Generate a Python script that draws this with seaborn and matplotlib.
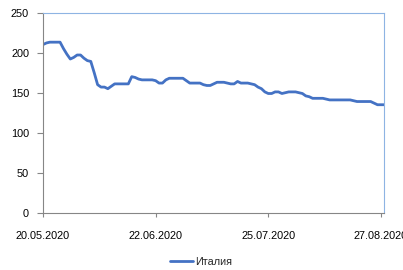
import pandas as pd
import matplotlib.pyplot as plt
import matplotlib.dates as mdates
import seaborn as sns

# Daily values for Italy, 20.05.2020 - 28.08.2020
start_date = "2020-05-20"
values = [
    210, 212, 213, 213, 213, 213, 205, 198, 192, 194,
    197, 197, 193, 190, 189, 175, 160, 157, 157, 155,
    158, 161, 161, 161, 161, 161, 170, 169, 167, 166,
    166, 166, 166, 165, 162, 162, 166, 168, 168, 168,
    168, 168, 165, 162, 162, 162, 162, 160, 159, 159,
    161, 163, 163, 163, 162, 161, 161, 164, 162, 162,
    162, 161, 160, 157, 155, 151, 149, 149, 151, 151,
    149, 150, 151, 151, 151, 150, 149, 146, 145, 143,
    143, 143, 143, 142, 141, 141, 141, 141, 141, 141,
    141, 140, 139, 139, 139, 139, 139, 137, 135, 135,
    135,
]
series_name = "Италия"
tick_dates = ["2020-05-20", "2020-06-22", "2020-07-25", "2020-08-27"]
y_ticks = [0, 50, 100, 150, 200, 250]

sns.set_theme(style="white")
plt.rcParams['font.family'] = ['Liberation Sans', 'DejaVu Sans']

df = pd.DataFrame({
    "date": pd.date_range(start_date, periods=len(values), freq="D"),
    "value": values,
})

fig = plt.figure(figsize=(4.03, 2.70), dpi=100)
ax = fig.add_axes([0.1067, 0.2111, 0.8469, 0.7426])

sns.lineplot(data=df, x="date", y="value", ax=ax, color="#4472C4",
             linewidth=2.0, label=series_name, legend=False)

ax.set_ylim(0, 250)
ax.set_yticks(y_ticks)
ax.set_xlim(df["date"].iloc[0], df["date"].iloc[-1])
ax.set_xticks(pd.to_datetime(tick_dates))
ax.xaxis.set_major_formatter(mdates.DateFormatter("%d.%m.%Y"))
ax.set_xlabel("")
ax.set_ylabel("")

for side in ["top", "right"]:
    ax.spines[side].set_color("#8EB4E3")
    ax.spines[side].set_linewidth(0.8)
for side in ["left", "bottom"]:
    ax.spines[side].set_color("#868686")
    ax.spines[side].set_linewidth(0.8)

ax.tick_params(axis="y", direction="out", length=4, width=0.8, color="#868686",
               pad=6, labelsize=7.8, labelcolor="#000000", left=True)
ax.tick_params(axis="x", direction="out", length=3, width=0.8, color="#868686",
               pad=10, labelsize=7.8, labelcolor="#000000", bottom=True)
ax.grid(False)

handles, labels = ax.get_legend_handles_labels()
fig.legend(handles, labels, loc="center", bbox_to_anchor=(0.499, 0.03),
           frameon=False, fontsize=7.8, handlelength=2.2, handletextpad=0.2)

fig.savefig("out.png", dpi=100)
